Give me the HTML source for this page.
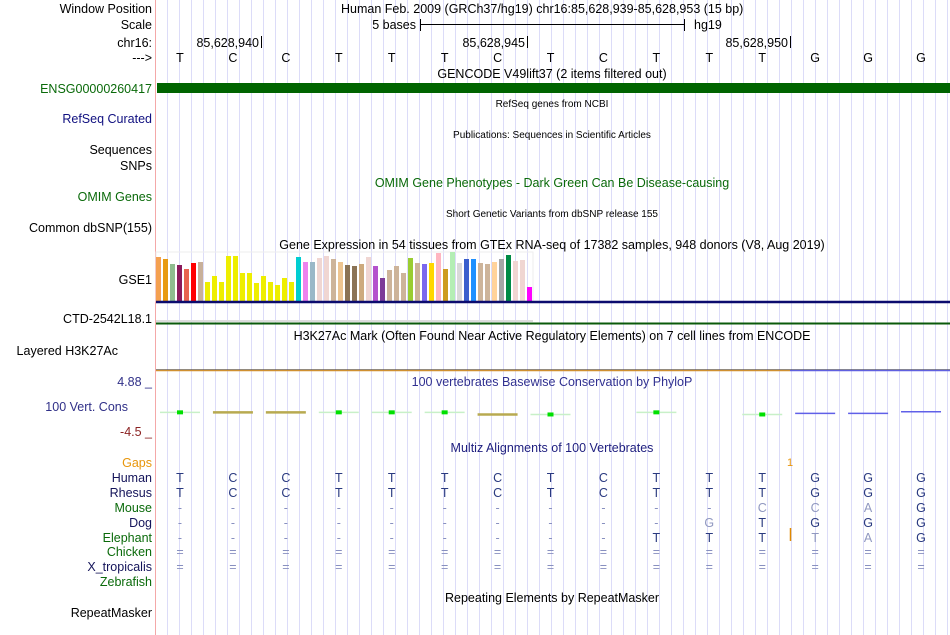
<!DOCTYPE html>
<html><head><meta charset="utf-8">
<style>
html,body{margin:0;padding:0;background:#fff;}
svg{display:block;font-family:"Liberation Sans",sans-serif;}
</style></head>
<body>
<svg id="chart" width="950" height="635" viewBox="0 0 950 635" xmlns="http://www.w3.org/2000/svg">
<g id="grid"></g>
<line x1="155.5" y1="0" x2="155.5" y2="635" stroke="#f4a8a8"/>
<g font-size="12.5" text-anchor="end">
<text x="152" y="13" fill="#000">Window Position</text>
<text x="152" y="29" fill="#000">Scale</text>
<text x="152" y="47" fill="#000">chr16:</text>
<text x="152" y="62" fill="#000">---&gt;</text>
<text x="152" y="93" fill="#0a6a0a">ENSG00000260417</text>
<text x="152" y="123" fill="#101080">RefSeq Curated</text>
<text x="152" y="154" fill="#000">Sequences</text>
<text x="152" y="170" fill="#000">SNPs</text>
<text x="152" y="201" fill="#0a6a0a">OMIM Genes</text>
<text x="152" y="232" fill="#000">Common dbSNP(155)</text>
<text x="152" y="284" fill="#000">GSE1</text>
<text x="152" y="323" fill="#000">CTD-2542L18.1</text>
<text x="118" y="355" fill="#000">Layered H3K27Ac</text>
<text x="152" y="386" fill="#303088">4.88 _</text>
<text x="128" y="411" fill="#303088">100 Vert. Cons</text>
<text x="152" y="436" fill="#8b2222">-4.5 _</text>
<text x="152" y="467" fill="#e8960c">Gaps</text>
<text x="152" y="482" fill="#14145a">Human</text>
<text x="152" y="497" fill="#14145a">Rhesus</text>
<text x="152" y="512" fill="#0a6a0a">Mouse</text>
<text x="152" y="527" fill="#14145a">Dog</text>
<text x="152" y="542" fill="#0a6a0a">Elephant</text>
<text x="152" y="556" fill="#0a6a0a">Chicken</text>
<text x="152" y="571" fill="#14145a">X_tropicalis</text>
<text x="152" y="586" fill="#0a6a0a">Zebrafish</text>
<text x="152" y="617" fill="#000">RepeatMasker</text>
</g>
<g font-size="12.5" fill="#000">
<text x="341" y="13">Human Feb. 2009 (GRCh37/hg19)   chr16:85,628,939-85,628,953 (15 bp)</text>
<text x="416" y="29" text-anchor="end">5 bases</text>
<line x1="420.5" y1="19" x2="420.5" y2="31" stroke="#000"/>
<line x1="420" y1="24.5" x2="684" y2="24.5" stroke="#000"/>
<line x1="684.5" y1="19" x2="684.5" y2="31" stroke="#000"/>
<text x="694" y="29">hg19</text>
<text x="259" y="47" text-anchor="end">85,628,940</text>
<line x1="261.5" y1="36" x2="261.5" y2="48" stroke="#000"/>
<text x="525" y="47" text-anchor="end">85,628,945</text>
<line x1="527.5" y1="36" x2="527.5" y2="48" stroke="#000"/>
<text x="788" y="47" text-anchor="end">85,628,950</text>
<line x1="790.5" y1="36" x2="790.5" y2="48" stroke="#000"/>
</g>
<g id="seq" font-size="12.5" text-anchor="middle"></g>
<g font-size="12.5" text-anchor="middle">
<text x="552" y="78" fill="#000">GENCODE V49lift37 (2 items filtered out)</text>
<rect x="157" y="83" width="793" height="10" fill="#006400"/>
<text x="552" y="107" font-size="10" fill="#000">RefSeq genes from NCBI</text>
<text x="552" y="138" font-size="10" fill="#000">Publications: Sequences in Scientific Articles</text>
<text x="552" y="187" fill="#0a6a0a">OMIM Gene Phenotypes - Dark Green Can Be Disease-causing</text>
<text x="552" y="217" font-size="10" fill="#000">Short Genetic Variants from dbSNP release 155</text>
<text x="552" y="249" fill="#000">Gene Expression in 54 tissues from GTEx RNA-seq of 17382 samples, 948 donors (V8, Aug 2019)</text>
<text x="552" y="340" fill="#000">H3K27Ac Mark (Often Found Near Active Regulatory Elements) on 7 cell lines from ENCODE</text>
<text x="552" y="386" fill="#303090">100 vertebrates Basewise Conservation by PhyloP</text>
<text x="552" y="452" fill="#202080">Multiz Alignments of 100 Vertebrates</text>
<text x="552" y="602" fill="#000">Repeating Elements by RepeatMasker</text>
</g>
<g id="gtex"></g>
<line x1="156" y1="302" x2="950" y2="302" stroke="#0c0c6e" stroke-width="2.5"/>
<line x1="156" y1="321" x2="533" y2="321" stroke="#ddd" stroke-width="2"/>
<line x1="156" y1="323.5" x2="950" y2="323.5" stroke="#0a5a0a" stroke-width="2"/>
<line x1="156" y1="370.5" x2="790" y2="370.5" stroke="#d09030" stroke-width="1.5"/>
<line x1="790" y1="370.5" x2="950" y2="370.5" stroke="#6060e0" stroke-width="1.5"/>
<line x1="156" y1="369.5" x2="950" y2="369.5" stroke="#333" stroke-width="0.6"/>
<g id="cons"></g>
<g id="align" font-size="12.5" text-anchor="middle"></g>
<text x="790" y="466" font-size="11" fill="#e8960c" text-anchor="middle">1</text>
<line x1="790.5" y1="528" x2="790.5" y2="541" stroke="#e08a00" stroke-width="1.5"/>
</svg>
<script>
const bases = ["T","C","C","T","T","T","C","T","C","T","T","T","G","G","G"];
const gtexValues = [44,42,37,36,32,38,39,19,25,19,45,45,28,28,18,25,19,16,23,19,44,39,39,43,45,42,39,36,35,37,44,35,23,31,35,28,43,38,37,38,48,32,49,38,42,42,38,37,39,42,46,40,41,14];
const gtexColors = ["#f4a050","#e89a10","#8fbc8f","#8b1a5b","#e8644f","#ff0000","#c8b09a","#eeee00","#eeee00","#eeee00","#eeee00","#eeee00","#eeee00","#eeee00","#eeee00","#eeee00","#eeee00","#eeee00","#eeee00","#eeee00","#00ced1","#ee82ee","#9ab8c8","#f0d6d2","#f0d6d2","#cdb49a","#eec591","#8b7355","#8b7355","#cdaa7d","#f0d6d2","#b452cd","#7d3c98","#cdb49a","#cdb49a","#cdb49a","#9acd32","#cdb49a","#7b68ee","#ffd700","#ffb6c1","#cd9b1d","#b4eeb4","#d9d9d9","#3a5fcd","#1e90ff","#cdb49a","#cdb49a","#ffd39b","#a6a6a6","#008b45","#f0d6d2","#f0d6d2","#ff00ff"];
const phylop = [-1,-1,-1,-1,-1,-1,-1.4,-1.4,null,-1,null,-1.4,-1.2,-1.2,-0.9];
const phylopColor = ["g","y","y","g","g","g","y","g","","g","","g","b","b","b"];
const rhesus = ["T","C","C","T","T","T","C","T","C","T","T","T","G","G","G"];
const mouse = ["-","-","-","-","-","-","-","-","-","-","-","c","c","a","G"];
const dog = ["-","-","-","-","-","-","-","-","-","-","g","T","G","G","G"];
const elephant = ["-","-","-","-","-","-","-","-","-","T","T","T","t","a","G"];
const chicken = ["=","=","=","=","=","=","=","=","=","=","=","=","=","=","="];
const xtrop = ["=","=","=","=","=","=","=","=","=","=","=","=","=","=","="];

const NS="http://www.w3.org/2000/svg";
const X1=950;
const xBase = i => 180 + 52.93*i;
function mk(tag, attrs, parent){const e=document.createElementNS(NS,tag);for(const k in attrs)e.setAttribute(k,attrs[k]);parent.appendChild(e);return e;}

const grid=document.getElementById('grid');
for(let x=167.5;x<X1;x+=12){
  const l=mk('line',{x1:x,y1:0,x2:x,y2:635,stroke:'#dcdcf8'},grid);
  
  
}

const seq=document.getElementById('seq');
bases.forEach((b,i)=>{
  const t=mk('text',{x:xBase(i),y:62,fill:'#000'},seq);
  t.textContent=b;
  
  
});

const gtex=document.getElementById('gtex');
const gBase=301, gScale=1.0, gStep=7, gX0=156;
const yG = v => gBase - v*gScale;
mk('rect',{x:156,y:252,width:377,height:49,fill:'none',stroke:'#eee'},gtex);
gtexValues.forEach((v,i)=>{
  const r=mk('rect',{x:gX0+i*gStep,y:yG(v),width:5,height:gBase-yG(v),fill:gtexColors[i]},gtex);
  
  
});

const cons=document.getElementById('cons');
const cTop=381, cBot=431, cMax=4.88, cMin=-4.5;
const yC = v => cTop + (cMax-v)/(cMax-cMin)*(cBot-cTop);
phylop.forEach((v,i)=>{
  if(v===null) return;
  const c=phylopColor[i];
  const cx=xBase(i), y=yC(v);
  let s;
  if(c==='g'){
    s=mk('line',{x1:cx-20,y1:y,x2:cx+20,y2:y,stroke:'#c8f0c8',"stroke-width":1.5},cons);
    mk('rect',{x:cx-3,y:y-2,width:6,height:4,fill:'#00e000'},cons);
  } else if(c==='y'){
    s=mk('line',{x1:cx-20,y1:y,x2:cx+20,y2:y,stroke:'#b8aa50',"stroke-width":2.5},cons);
  } else {
    s=mk('line',{x1:cx-20,y1:y,x2:cx+20,y2:y,stroke:'#6060e8',"stroke-width":1.5},cons);
  }
  
  
});

const align=document.getElementById('align');
const rows=[[bases,482],[rhesus,497],[mouse,512],[dog,527],[elephant,542],[chicken,556],[xtrop,571]];
rows.forEach(([arr,y],ri)=>{
  arr.forEach((b,i)=>{
    let fill='#2a3a80', ch=b;
    if(b==='-'||b==='='){fill='#8890c0';}
    else if(b===b.toLowerCase()){fill='#9098c0';ch=b.toUpperCase();}
    const t=mk('text',{x:xBase(i),y:y,fill:fill},align);
    t.textContent=ch;
    
    
  });
});
</script>
</body></html>
